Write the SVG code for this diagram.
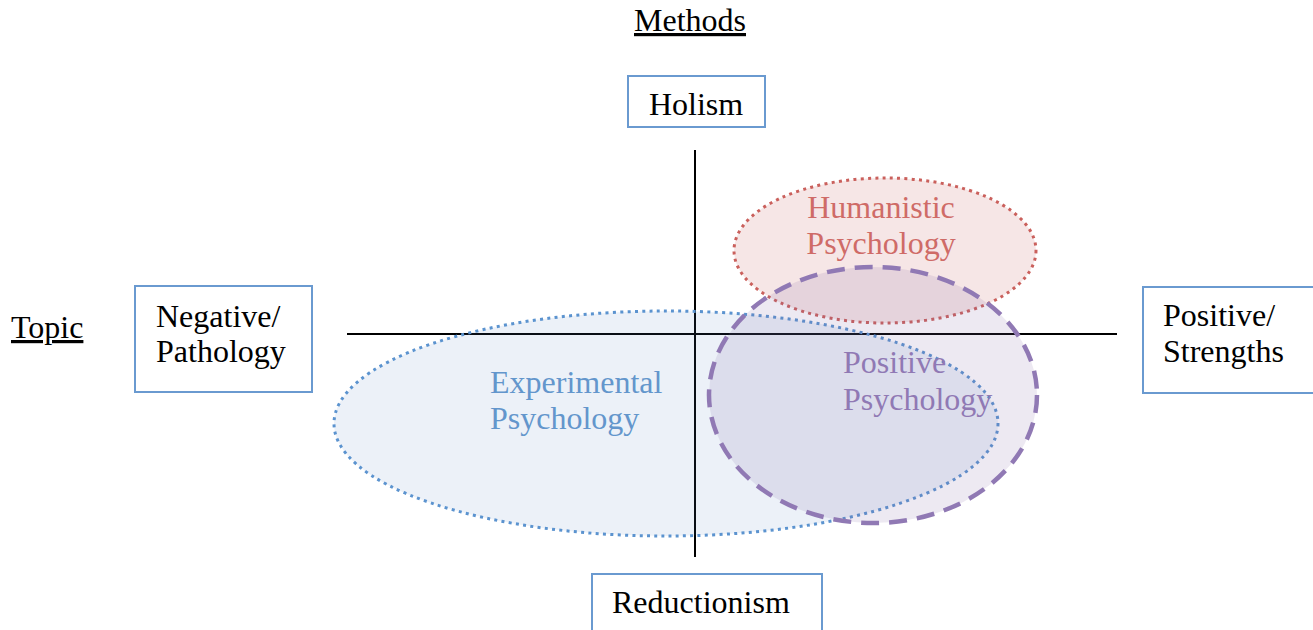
<svg xmlns="http://www.w3.org/2000/svg" width="1313" height="630" viewBox="0 0 1313 630">
<style>
text{font-family:"Liberation Serif","Times New Roman",serif;font-size:32px;fill:#000}
.box rect{fill:#fff;stroke:#6A9AD0;stroke-width:2}
.ul{text-decoration:underline}
.axis{stroke:#000;stroke-width:2}
</style>
<rect width="1313" height="630" fill="#fff"/>
<g id="labels">
<text class="ul" x="690" y="31" text-anchor="middle">Methods</text>
<text class="ul" x="11" y="338">Topic</text>
</g>
<g id="connectors">
<line class="axis" x1="695" y1="150" x2="695" y2="557"/>
<line class="axis" x1="347" y1="334" x2="1117" y2="334"/>
</g>
<g id="experimental">
<ellipse cx="666" cy="423.5" rx="332" ry="112.5" fill="#4F81BD" fill-opacity="0.11" stroke="#5B93CF" stroke-width="3" stroke-dasharray="3 4.3"/>
<text x="490" y="393" style="fill:#6396CC">Experimental</text>
<text x="490" y="429" style="fill:#6396CC">Psychology</text>
</g>
<g id="humanistic">
<ellipse cx="885" cy="250.5" rx="151" ry="72.5" fill="#C0504D" fill-opacity="0.14" stroke="#CA605C" stroke-width="3" stroke-dasharray="3 4.3"/>
<text x="881" y="218" text-anchor="middle" style="fill:#CF6B67">Humanistic</text>
<text x="881" y="254" text-anchor="middle" style="fill:#CF6B67">Psychology</text>
</g>
<g id="positive">
<ellipse cx="873" cy="395" rx="164" ry="128" fill="#8064A2" fill-opacity="0.14" stroke="#9079B4" stroke-width="4.5" stroke-dasharray="18 10"/>
<text x="843" y="373" style="fill:#9079B4">Positive</text>
<text x="843" y="410" style="fill:#9079B4">Psychology</text>
</g>
<g id="holism" class="box">
<rect x="628" y="76" width="137" height="51"/>
<text x="696" y="115" text-anchor="middle">Holism</text>
</g>
<g id="negative" class="box">
<rect x="135" y="286" width="177" height="106"/>
<text x="156" y="327">Negative/</text>
<text x="156" y="362">Pathology</text>
</g>
<g id="positive-strengths" class="box">
<rect x="1143" y="287" width="180" height="106"/>
<text x="1163" y="326">Positive/</text>
<text x="1163" y="362">Strengths</text>
</g>
<g id="reductionism" class="box">
<rect x="592" y="574" width="230" height="70"/>
<text x="612" y="613">Reductionism</text>
</g>
</svg>
